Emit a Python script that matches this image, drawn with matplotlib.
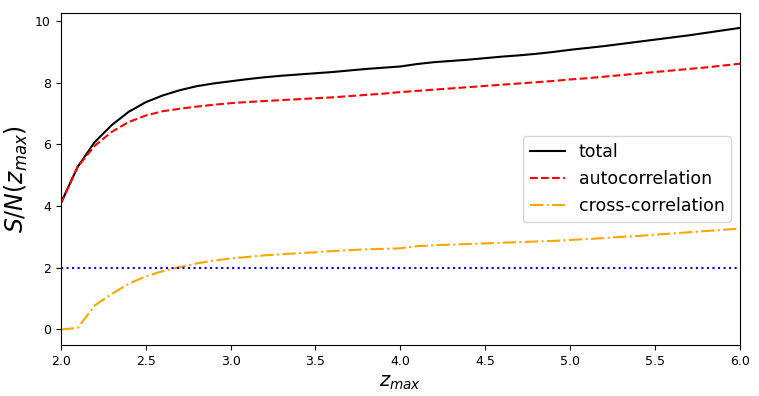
import matplotlib
matplotlib.use("Agg")
import matplotlib.pyplot as plt
import numpy as np

z = [2.0, 2.1, 2.2, 2.3, 2.4, 2.5, 2.6, 2.7, 2.8, 2.9, 3.0, 3.1, 3.2, 3.3, 3.4, 3.5, 3.6, 3.7, 3.8, 3.9, 4.0,
     4.1, 4.2, 4.3, 4.4, 4.5, 4.6, 4.7, 4.8, 4.9, 5.0, 5.1, 5.2, 5.3, 5.4, 5.5, 5.6, 5.7, 5.8, 5.9, 6.0]
total = [4.08, 5.27, 6.07, 6.62, 7.05, 7.36, 7.58, 7.75, 7.88, 7.97, 8.04, 8.11, 8.17, 8.22, 8.26, 8.30, 8.34, 8.39, 8.44, 8.48, 8.52,
         8.60, 8.66, 8.70, 8.74, 8.79, 8.84, 8.88, 8.93, 8.99, 9.06, 9.12, 9.18, 9.25, 9.32, 9.39, 9.46, 9.53, 9.61, 9.69, 9.77]
auto = [4.08, 5.27, 5.95, 6.40, 6.72, 6.93, 7.07, 7.15, 7.22, 7.28, 7.33, 7.37, 7.40, 7.43, 7.46, 7.49, 7.52, 7.56, 7.60, 7.64, 7.69,
        7.73, 7.77, 7.81, 7.85, 7.89, 7.93, 7.97, 8.01, 8.05, 8.10, 8.14, 8.19, 8.24, 8.29, 8.34, 8.39, 8.44, 8.49, 8.55, 8.61]
cross = [0.0, 0.05, 0.78, 1.15, 1.48, 1.72, 1.89, 2.02, 2.14, 2.23, 2.30, 2.35, 2.40, 2.44, 2.47, 2.50, 2.54, 2.57, 2.60, 2.61, 2.63,
         2.70, 2.73, 2.75, 2.77, 2.79, 2.81, 2.83, 2.85, 2.87, 2.90, 2.93, 2.96, 3.00, 3.03, 3.07, 3.11, 3.15, 3.19, 3.23, 3.27]
threshold = 2.0

fig = plt.figure(figsize=(7.59, 3.96), dpi=100)
ax = fig.add_axes([0.080, 0.129, 0.895, 0.838])
ax.plot(z, total, color="black", linestyle="-", linewidth=1.5, label="total")
ax.plot(z, auto, color="red", linestyle="--", linewidth=1.5, label="autocorrelation")
ax.plot(z, cross, color="orange", linestyle="-.", linewidth=1.5, label="cross-correlation")
ax.axhline(threshold, color="blue", linestyle=":", linewidth=1.5)
ax.set_xlim(2.0, 6.0)
ax.set_ylim(-0.5, 10.25)
ax.set_xticks(np.arange(2.0, 6.01, 0.5))
ax.set_yticks([0, 2, 4, 6, 8, 10])
ax.tick_params(labelsize=9)
ax.set_xlabel(r"$z_{max}$", fontsize=14)
ax.set_ylabel(r"$S/N(z_{max})$", fontsize=17)
ax.legend(loc="center right", fontsize=12.5)
fig.savefig("out.png", dpi=100)
